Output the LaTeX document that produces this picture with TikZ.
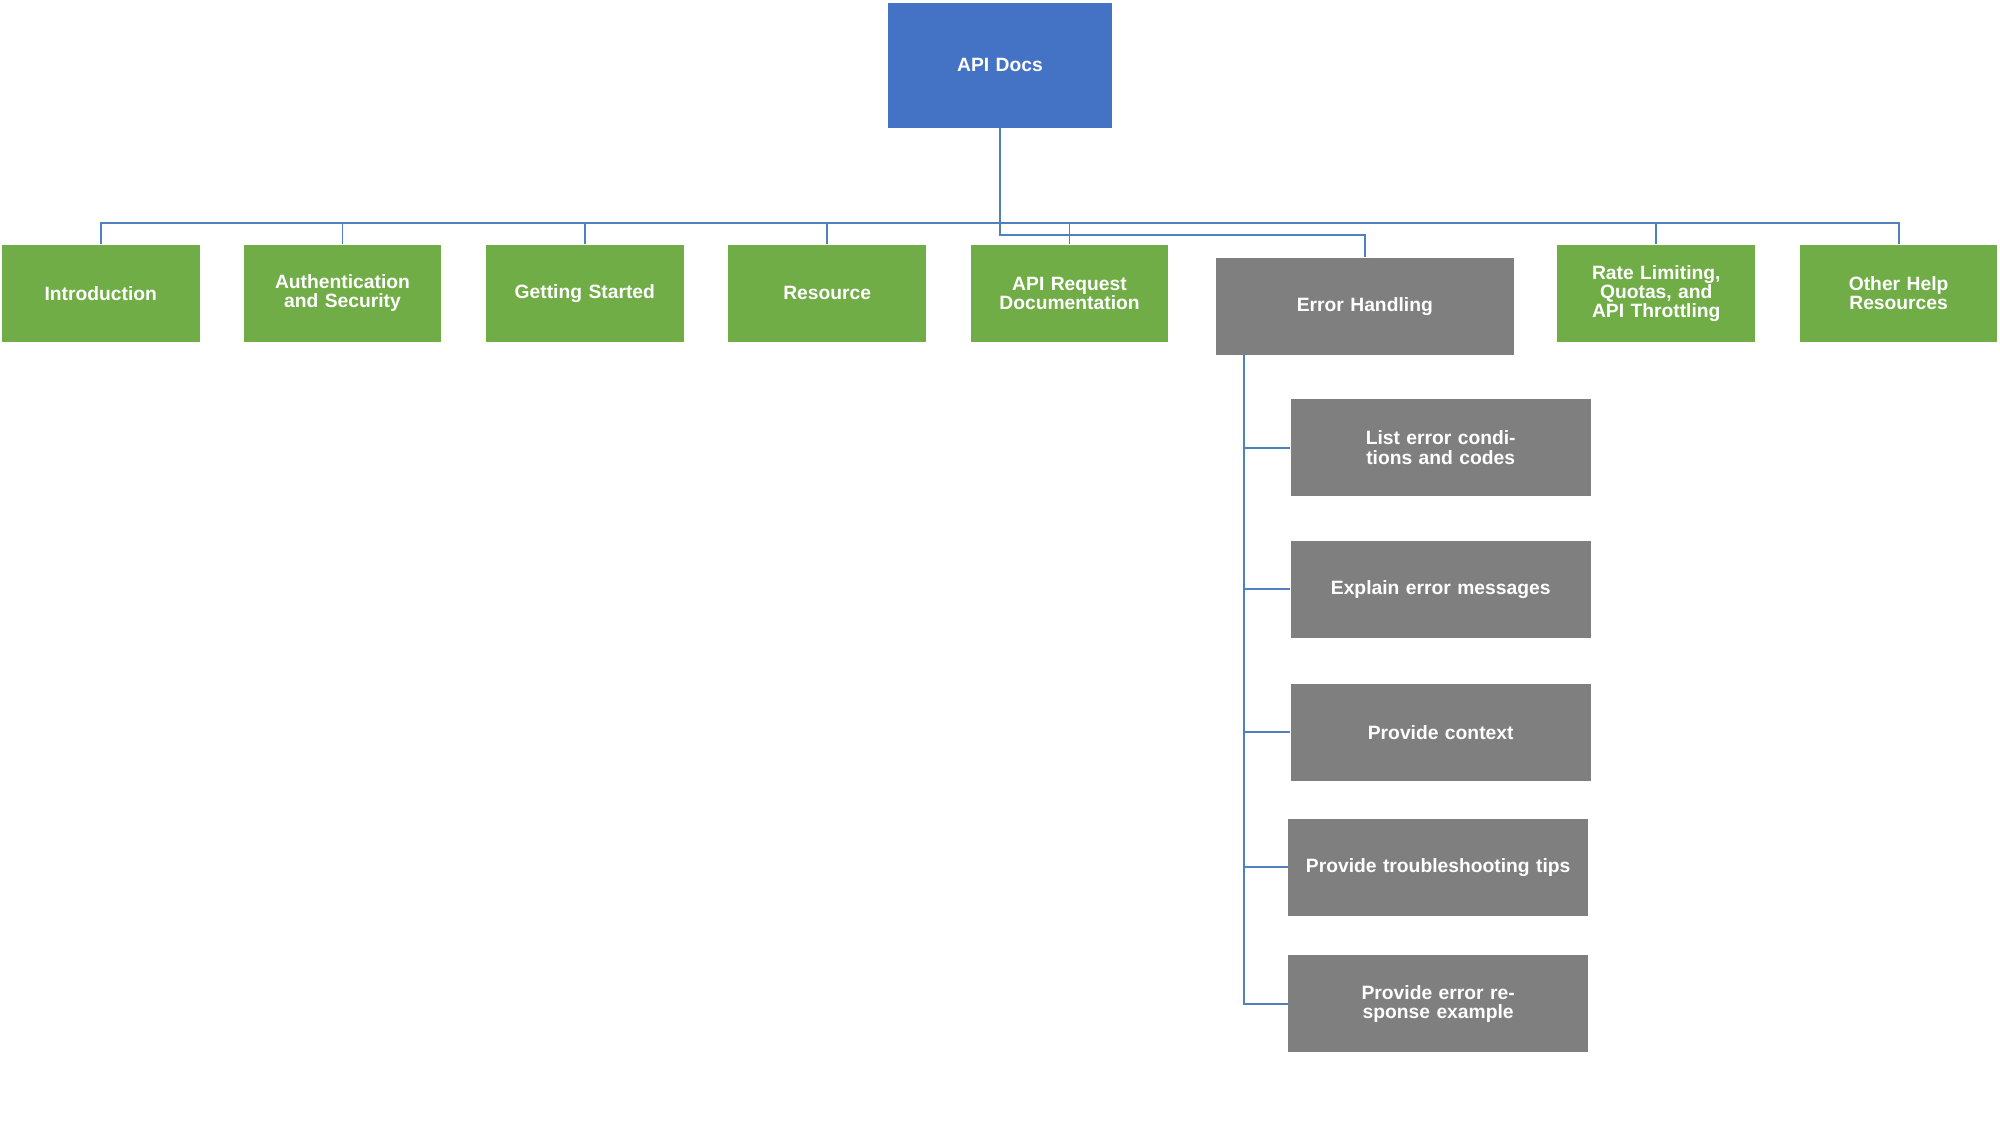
\documentclass[tikz,border=0pt]{standalone}
\usepackage{fontspec}
\setmainfont{Liberation Sans}
\usetikzlibrary{positioning}
\definecolor{docblue}{HTML}{4472C4}
\definecolor{secgreen}{HTML}{70AD47}
\definecolor{errgrey}{HTML}{7F7F7F}
\definecolor{linkblue}{HTML}{5080BE}
\begin{document}
\begin{tikzpicture}[
    x=0.02cm, y=-0.02cm,
    block/.style={rectangle, inner sep=2pt, text=white, font=\fontsize{8.6}{8.6}\selectfont\bfseries, align=center, text width=2.9cm, minimum width=3.1cm, minimum height=1.52cm},
    section/.style={block, fill=secgreen},
    errstep/.style={block, fill=errgrey, minimum width=4.7cm, text width=4.4cm},
    link/.style={draw=linkblue, line width=0.8pt}
]
    \useasboundingbox (0,0) rectangle (1568,883);
    % Root
    \node[block, fill=docblue, minimum width=3.5cm, minimum height=1.96cm] (api) at (784,51) {API Docs};

    % Sections
    \node[section] (intro) at (79,230) {Introduction};
    \node[section] (auth) at (268.5,230) {Authentication and Security};
    \node[section] (start) at (458.5,230) {Getting Started};
    \node[section] (res) at (648.5,230) {Resource};
    \node[section] (req) at (838.5,230) {API Request Documentation};
    \node[block, fill=errgrey, minimum width=4.68cm, text width=4.4cm] (err) at (1070,240) {Error Handling};
    \node[section] (rate) at (1298.5,230) {Rate Limiting, Quotas, and API Throttling};
    \node[section] (help) at (1488.5,230) {Other Help Resources};

    % Error handling steps
    \node[errstep] (e1) at (1129.5,351) {List error conditions and codes};
    \node[errstep] (e2) at (1129.5,462) {Explain error messages};
    \node[errstep] (e3) at (1129.5,574) {Provide context};
    \node[errstep] (e4) at (1127.5,680) {Provide troubleshooting tips};
    \node[errstep] (e5) at (1127.5,787) {Provide error response example};

    % Connectors
    \coordinate (bus) at (784,175);
    \draw[link] (api.south) -- (bus);
    \foreach \n in {intro,auth,start,res,req,rate,help}
        \draw[link] (bus) -| (\n.north);
    \draw[link] (api.south) -- ++(0,84) -| (err.north);
    \coordinate (spine) at (975,278);
    \foreach \n in {e1,e2,e3,e4,e5}
        \draw[link] (spine) |- (\n.west);
\end{tikzpicture}
\end{document}
